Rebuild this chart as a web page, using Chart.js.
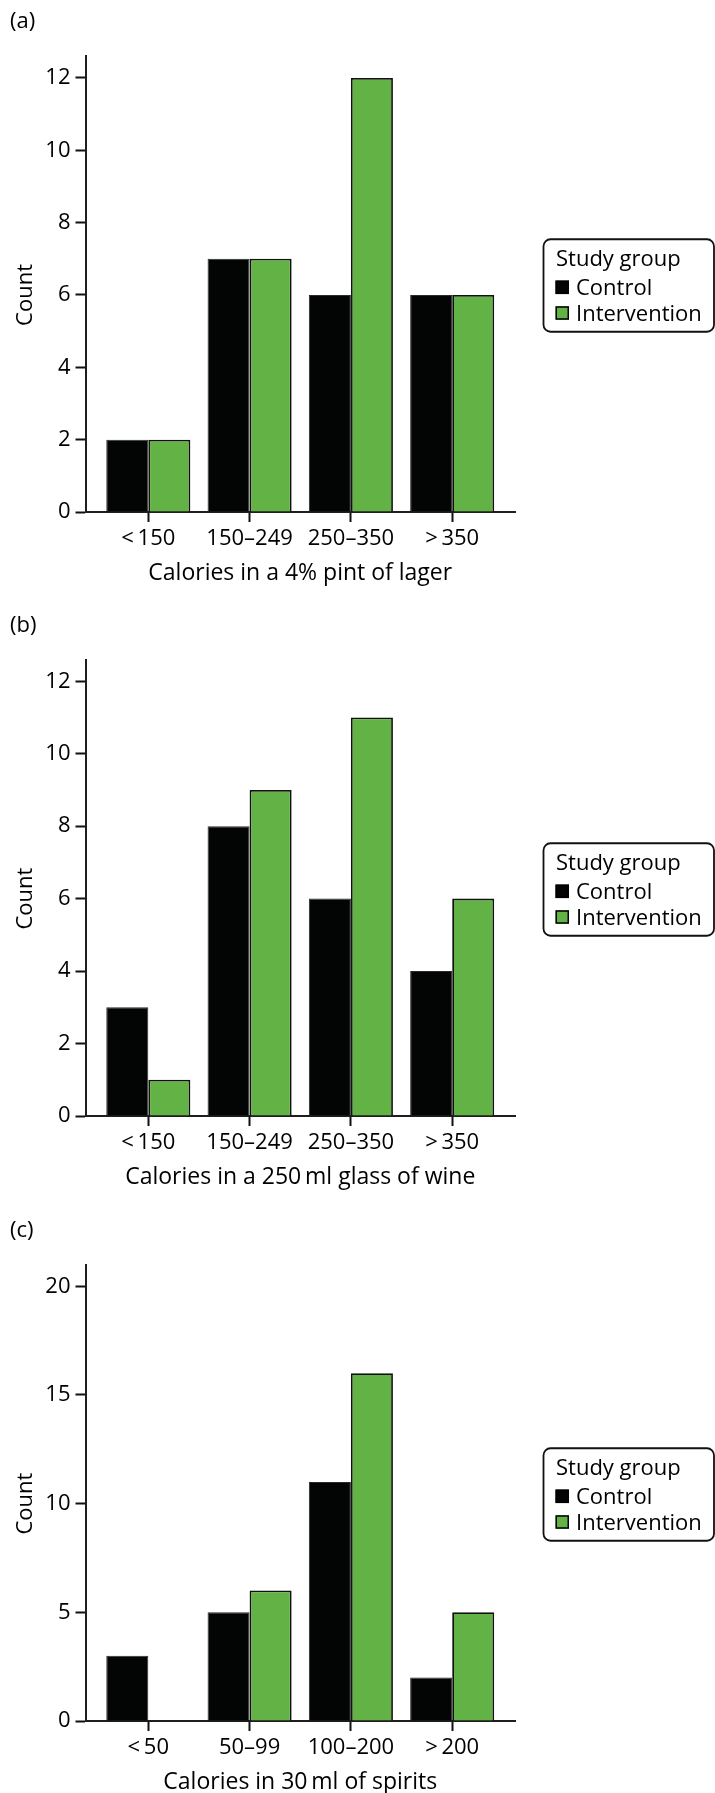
<!DOCTYPE html>
<html>
<head>
<meta charset="utf-8">
<script src="https://cdn.jsdelivr.net/npm/chart.js@4/dist/chart.umd.min.js"></script>
<style>
  html, body { margin: 0; padding: 0; background: #ffffff; }
  body { width: 715px; height: 1793px; position: relative; overflow: hidden; }
  canvas { position: absolute; left: 0; display: block; }
</style>
</head>
<body>
<canvas id="lager" width="715" height="604" style="top:0px"></canvas>
<canvas id="wine" width="715" height="605" style="top:604px"></canvas>
<canvas id="spirits" width="715" height="584" style="top:1209px"></canvas>
<script>
// ---- data ----
const seriesNames = ['Control', 'Intervention'];
const legendTitle = 'Study group';
const yTitle = 'Count';

const lagerBins = ['<\u2009150', '150–249', '250–350', '>\u2009350'];
const lagerControl = [2, 7, 6, 6];
const lagerIntervention = [2, 7, 12, 6];
const lagerTitle = 'Calories in a 4% pint of lager';

const wineBins = ['<\u2009150', '150–249', '250–350', '>\u2009350'];
const wineControl = [3, 8, 6, 4];
const wineIntervention = [1, 9, 11, 6];
const wineTitle = 'Calories in a 250\u2009ml glass of wine';

const spiritsBins = ['<\u200950', '50–99', '100–200', '>\u2009200'];
const spiritsControl = [3, 5, 11, 2];
const spiritsIntervention = [0, 6, 16, 5];
const spiritsTitle = 'Calories in 30\u2009ml of spirits';

// ---- styling ----
const FONT = '"Open Sans", "DejaVu Sans", sans-serif';
const CONTROL_FILL = '#030404';
const INTERVENTION_FILL = '#63b246';
const INK = '#000000';
const AXIS = '#1e1e1e';

Chart.defaults.font.family = FONT;
Chart.defaults.color = INK;

// Draws the rotated "Count" title (centred on the labelled tick range)
// and the framed "Study group" key to the right of the plot.
const panelDecor = {
  id: 'panelDecor',
  afterDraw(chart, args, opts) {
    const { ctx, chartArea, scales } = chart;
    const y = scales.y;
    const t = y.ticks;
    const mid = (t[0].value + t[t.length - 1].value) / 2;

    ctx.save();
    ctx.translate(31.5, y.getPixelForValue(mid));
    ctx.rotate(-Math.PI / 2);
    ctx.font = '22px ' + FONT;
    ctx.fillStyle = INK;
    ctx.textAlign = 'center';
    ctx.textBaseline = 'alphabetic';
    ctx.fillText(opts.yTitle, 0, 0);
    ctx.restore();

    // key
    const cy = (chartArea.top + chartArea.bottom) / 2;
    const bx = 543.5, by = cy - 44.5, bw = 170.5, bh = 92.5, r = 7;
    ctx.save();
    ctx.lineWidth = 1.8;
    ctx.strokeStyle = '#111';
    ctx.beginPath();
    ctx.roundRect(bx, by, bw, bh, r);
    ctx.stroke();

    ctx.font = '22px ' + FONT;
    ctx.fillStyle = INK;
    ctx.textAlign = 'left';
    ctx.textBaseline = 'alphabetic';
    ctx.fillText(opts.legendTitle, 556, cy - 17.7);

    chart.data.datasets.forEach((ds, i) => {
      const base = cy + 11.3 + i * 25.7;
      const sx = 555.5, sy = base - 14.5, s = 13.5;
      ctx.fillStyle = ds.backgroundColor;
      ctx.fillRect(sx, sy, s, s);
      ctx.lineWidth = 1.5;
      ctx.strokeStyle = '#000';
      ctx.strokeRect(sx + 0.75, sy + 0.75, s - 1.5, s - 1.5);
      ctx.fillStyle = INK;
      ctx.fillText(ds.label, 576, base);
    });
    ctx.restore();
  }
};

function makePanel(canvasId, panelLabel, bins, control, intervention, xTitle, yMax, yStep) {
  const canvas = document.getElementById(canvasId);
  const positions = bins.map((_, i) => i + 1);
  const plotBottom = 512;
  const xAxisHeight = 80;

  return new Chart(canvas, {
    type: 'bar',
    data: {
      datasets: [
        {
          label: seriesNames[0],
          data: positions.map((x, i) => ({ x, y: control[i] })),
          backgroundColor: CONTROL_FILL,
          borderColor: '#2a2a2a',
          borderWidth: 1
        },
        {
          label: seriesNames[1],
          data: positions.map((x, i) => ({ x, y: intervention[i] })),
          backgroundColor: INTERVENTION_FILL,
          borderColor: '#111111',
          borderWidth: 1.8
        }
      ]
    },
    options: {
      responsive: false,
      animation: false,
      devicePixelRatio: 1,
      layout: {
        padding: { left: 10, right: 200, top: 0, bottom: canvas.height - plotBottom - xAxisHeight }
      },
      datasets: { bar: { categoryPercentage: 0.83, barPercentage: 1 } },
      plugins: {
        legend: { display: false },
        tooltip: { enabled: false },
        title: {
          display: true,
          text: panelLabel,
          align: 'start',
          color: INK,
          font: { size: 22, weight: 'normal' },
          padding: { top: 9, bottom: 20.1 }
        },
        panelDecor: { yTitle, legendTitle }
      },
      scales: {
        x: {
          type: 'linear',
          offset: false,
          min: 0.38,
          max: 4.62,
          afterBuildTicks: (s) => { s.ticks = positions.map(v => ({ value: v })); },
          afterFit: (s) => { s.height = xAxisHeight; },
          grid: { display: true, offset: false, drawOnChartArea: false, drawTicks: true, tickLength: 10, tickWidth: 2, tickColor: '#111' },
          border: { display: true, color: AXIS, width: 2 },
          ticks: {
            padding: 3.5,
            color: INK,
            font: { size: 22 },
            autoSkip: false,
            maxRotation: 0,
            callback: (v) => bins[v - 1]
          },
          title: {
            display: true,
            text: xTitle,
            color: INK,
            font: { size: 23 },
            padding: { top: 0, bottom: 5 }
          }
        },
        y: {
          min: 0,
          max: yMax,
          afterFit: (s) => { s.width = 75.5; },
          grid: { display: true, drawOnChartArea: false, drawTicks: true, tickLength: 10, tickWidth: 2, tickColor: '#111' },
          border: { display: true, color: AXIS, width: 2 },
          ticks: {
            stepSize: yStep,
            includeBounds: false,
            padding: 5,
            color: INK,
            font: { size: 22 }
          }
        }
      }
    },
    plugins: [panelDecor]
  });
}

makePanel('lager', '(a)', lagerBins, lagerControl, lagerIntervention, lagerTitle, 12.62, 2);
makePanel('wine', '(b)', wineBins, wineControl, wineIntervention, wineTitle, 12.6, 2);
makePanel('spirits', '(c)', spiritsBins, spiritsControl, spiritsIntervention, spiritsTitle, 21, 5);
</script>
</body>
</html>
